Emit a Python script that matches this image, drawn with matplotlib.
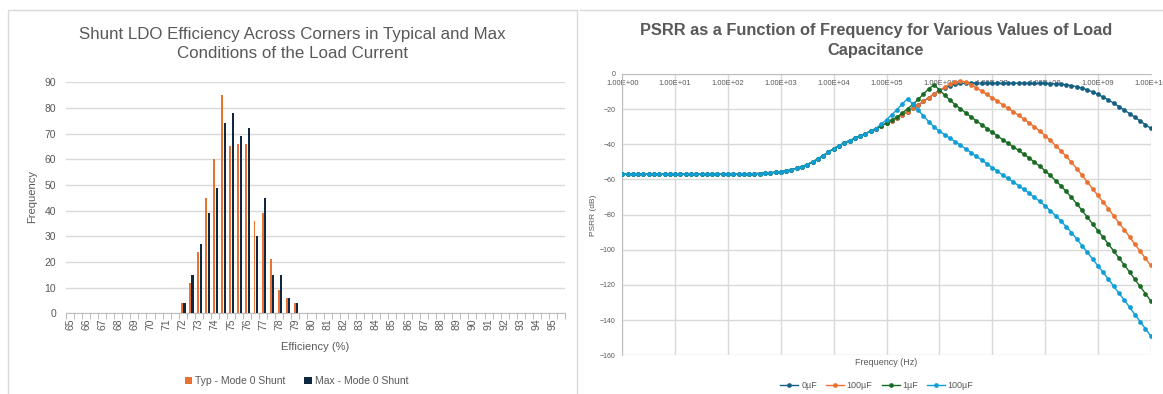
import numpy as np
import matplotlib
matplotlib.use("Agg")
import matplotlib.pyplot as plt
from matplotlib.patches import Rectangle
from matplotlib.lines import Line2D
from matplotlib.ticker import FixedLocator, FuncFormatter, NullFormatter

plt.rcParams['font.family'] = ['Liberation Sans Narrow', 'Liberation Sans', 'DejaVu Sans']

# ---- left chart data (efficiency histogram) ----
efficiency = np.arange(65, 96, 0.5)          # 65, 65.5, ..., 95.5 categories
typ_mode0 = [0]*14 + [4, 12, 24, 45, 60, 85, 65, 66, 66, 36, 39, 21, 9, 6, 4] + [0]*33
max_mode0 = [0]*14 + [4, 15, 27, 39, 49, 74, 78, 69, 72, 30, 45, 15, 15, 6, 4] + [0]*33

# ---- right chart data (PSRR vs frequency, 10 points per decade) ----
freq_exp = np.arange(101) / 10.0
freq = 10 ** freq_exp

low_freq_part = [-57.0]*20 + [
    -56.9, -56.9, -56.9, -56.8, -56.8, -56.7, -56.6, -56.4, -56.2, -55.9,
    -55.6, -55.1, -54.5, -53.7, -52.7, -51.5, -50.0, -48.3, -46.4, -44.4,
    -42.5, -40.8, -39.3, -37.9, -36.6, -35.3, -33.9, -32.5, -31.0]

psrr_0uF = low_freq_part + [
    -29.5, -28.0, -26.5, -24.9, -23.2, -21.4, -19.5, -17.6, -15.6, -13.5, -11.4, -9.4,
    -7.8, -6.6, -5.8, -5.4, -5.2, -5.1, -5.1, -5.1, -5.1, -5.2,
    -5.2, -5.2, -5.2, -5.2, -5.2, -5.2, -5.3, -5.3, -5.3, -5.4,
    -5.5, -5.6, -5.8, -6.1, -6.6, -7.2, -8.0, -9.0, -10.2, -11.6,
    -13.1, -14.8, -16.6, -18.5, -20.5, -22.5, -24.6, -26.7, -28.8, -30.9]

psrr_100uF_a = low_freq_part + [
    -29.5, -28.0, -26.5, -24.9, -23.2, -21.4, -19.5, -17.6, -15.6, -13.5, -11.4, -9.4,
    -7.5, -5.8, -4.6, -4.0, -4.5, -6.0, -7.8, -9.7, -11.6, -13.5,
    -15.4, -17.6, -19.5, -21.4, -23.5, -25.6, -27.8, -30.1, -32.4, -35.0,
    -37.7, -40.7, -43.6, -46.8, -50.2, -53.8, -57.6, -61.4, -65.2, -69.1,
    -72.9, -76.7, -80.7, -84.7, -88.6, -92.6, -96.8, -100.8, -104.9, -108.9]

psrr_1uF = low_freq_part + [
    -29.5, -28.0, -26.3, -24.4, -22.2, -19.8, -17.2, -14.4, -11.4, -8.4, -6.1, -9.0,
    -12.0, -14.8, -17.4, -19.8, -22.1, -24.4, -26.6, -28.8, -31.0, -33.1,
    -35.2, -37.4, -39.4, -41.4, -43.5, -45.6, -47.8, -50.1, -52.4, -55.0,
    -57.7, -60.6, -63.6, -66.8, -70.2, -73.8, -77.6, -81.4, -85.2, -89.1,
    -92.9, -96.7, -100.7, -104.7, -108.6, -112.6, -116.8, -120.8, -124.9, -129.0]

psrr_100uF_b = low_freq_part + [
    -28.5, -26.0, -23.2, -20.2, -17.0, -14.0, -17.3, -20.6, -23.9, -27.2, -30.1, -32.5,
    -34.5, -36.5, -38.5, -40.5, -42.6, -44.7, -46.8, -48.9, -51.0, -53.2,
    -55.3, -57.5, -59.4, -61.4, -63.5, -65.6, -67.8, -70.1, -72.4, -75.0,
    -77.7, -80.6, -83.6, -86.8, -90.2, -93.8, -97.6, -101.4, -105.2, -109.1,
    -112.9, -116.7, -120.7, -124.7, -128.6, -132.6, -136.8, -140.8, -144.9, -149.0]

psrr_series = [
    ("0µF", psrr_0uF, "#156082"),
    ("100µF", psrr_100uF_a, "#E97132"),
    ("1µF", psrr_1uF, "#196B24"),
    ("100µF", psrr_100uF_b, "#0F9ED5"),
]

GRID = "#D9D9D9"
TXT = "#595959"
W, H = 1163, 394

fig = plt.figure(figsize=(W/100, H/100), dpi=100)

# chart area borders
fig.add_artist(Rectangle((8/W, -0.02), 569/W, (H-10)/H + 0.02, transform=fig.transFigure,
                         fill=False, edgecolor=GRID, lw=1))
fig.add_artist(Line2D([580/W, 1.0], [1-10/H, 1-10/H], transform=fig.transFigure, color=GRID, lw=1))

# ================= left chart =================
ax1 = fig.add_axes([66/W, (H-313.3)/H, 499/W, 231/H])
idx = np.arange(len(efficiency))
b1 = ax1.bar(idx - 0.08, typ_mode0, width=0.24, color="#E97132", label="Typ - Mode 0 Shunt", zorder=3)
b2 = ax1.bar(idx + 0.22, max_mode0, width=0.26, color="#0E2841", label="Max - Mode 0 Shunt", zorder=3)
ax1.set_xlim(-0.5, len(efficiency) - 0.5)
ax1.set_ylim(0, 90)
ax1.set_yticks(range(0, 91, 10))
ax1.yaxis.grid(True, color=GRID, lw=1)
ax1.set_axisbelow(True)
for s in ["left", "right", "top"]:
    ax1.spines[s].set_visible(False)
ax1.spines["bottom"].set_color("#BFBFBF")
major = idx[::2]
ax1.xaxis.set_major_locator(FixedLocator(major))
ax1.set_xticklabels([f"{efficiency[i]:.0f}" for i in major], rotation=90)
ax1.xaxis.set_minor_locator(FixedLocator(np.arange(-0.5, len(efficiency), 1.0)))
ax1.tick_params(axis="x", which="major", length=0, pad=3.5, labelsize=7.5, labelcolor=TXT)
ax1.tick_params(axis="x", which="minor", length=4, color="#BFBFBF", width=0.8)
ax1.tick_params(axis="y", length=0, pad=7, labelsize=7.5, labelcolor=TXT)
ax1.set_xlabel("Efficiency (%)", fontsize=8, color=TXT)
ax1.xaxis.set_label_coords(0.5, (313.3-346.7)/231)
ax1.xaxis.label.set_va("center")
ax1.set_ylabel("Frequency", fontsize=8, color=TXT)
ax1.yaxis.set_label_coords((32.3-66)/499, (313.3-196.7)/231)
ax1.yaxis.label.set_va("center")
fig.text(292.5/W, 1-43.6/H, "Shunt LDO Efficiency Across Corners in Typical and Max\nConditions of the Load Current",
         ha="center", va="center", fontsize=12.2, color=TXT, linespacing=1.35)
ax1.legend(handles=[b1, b2], loc="center", bbox_to_anchor=(296.5/W, 1-381/H), bbox_transform=fig.transFigure,
           ncol=2, frameon=False, fontsize=7.5, handlelength=0.7, handleheight=0.7,
           handletextpad=0.3, columnspacing=1.8, labelcolor=TXT)

# ================= right chart =================
ax2 = fig.add_axes([622.3/W, (H-355.3)/H, 528.4/W, 281.3/H])
for name, vals, col in psrr_series:
    ax2.plot(freq, vals, color=col, lw=1, marker="o", ms=3.4, mew=0, label=name, zorder=3)
ax2.set_xscale("log")
ax2.set_xlim(1, 1e10)
ax2.set_ylim(-160, 0)
ax2.set_yticks(range(-160, 1, 20))
ax2.xaxis.set_major_locator(FixedLocator(10.0 ** np.arange(0, 11)))
ax2.xaxis.set_minor_formatter(NullFormatter())
ax2.xaxis.set_major_formatter(FuncFormatter(lambda v, p: f"1.00E+{int(round(np.log10(v))):02d}"))
ax2.grid(True, which="major", color=GRID, lw=1)
ax2.set_axisbelow(True)
for s in ["right", "bottom"]:
    ax2.spines[s].set_visible(False)
ax2.spines["left"].set_color("#BFBFBF")
ax2.spines["top"].set_color("#BFBFBF")
ax2.tick_params(axis="x", which="both", top=False, bottom=False, labeltop=True, labelbottom=False,
                pad=-13, labelsize=5.5, labelcolor=TXT)
ax2.tick_params(axis="y", length=0, pad=4.7, labelsize=5, labelcolor=TXT)
ax2.set_xlabel("Frequency (Hz)", fontsize=6.5, color=TXT)
ax2.xaxis.set_label_coords(0.5, (355.3-362.7)/281.3)
ax2.xaxis.label.set_va("center")
ax2.set_ylabel("PSRR (dB)", fontsize=6, color=TXT)
ax2.yaxis.set_label_coords((593.3-622.3)/528.4, (355.3-215)/281.3)
ax2.yaxis.label.set_va("center")
fig.text(876/W, 1-40.8/H, "PSRR as a Function of Frequency for Various Values of Load\nCapacitance",
         ha="center", va="center", fontsize=11.8, fontweight="bold", color=TXT, linespacing=1.45)
ax2.legend(loc="center", bbox_to_anchor=(877/W, 1-385.7/H), bbox_transform=fig.transFigure,
           ncol=4, frameon=False, fontsize=6.5, handlelength=2.0, handletextpad=0.3,
           columnspacing=1.0, labelcolor=TXT)

fig.savefig("out.png", dpi=100)
